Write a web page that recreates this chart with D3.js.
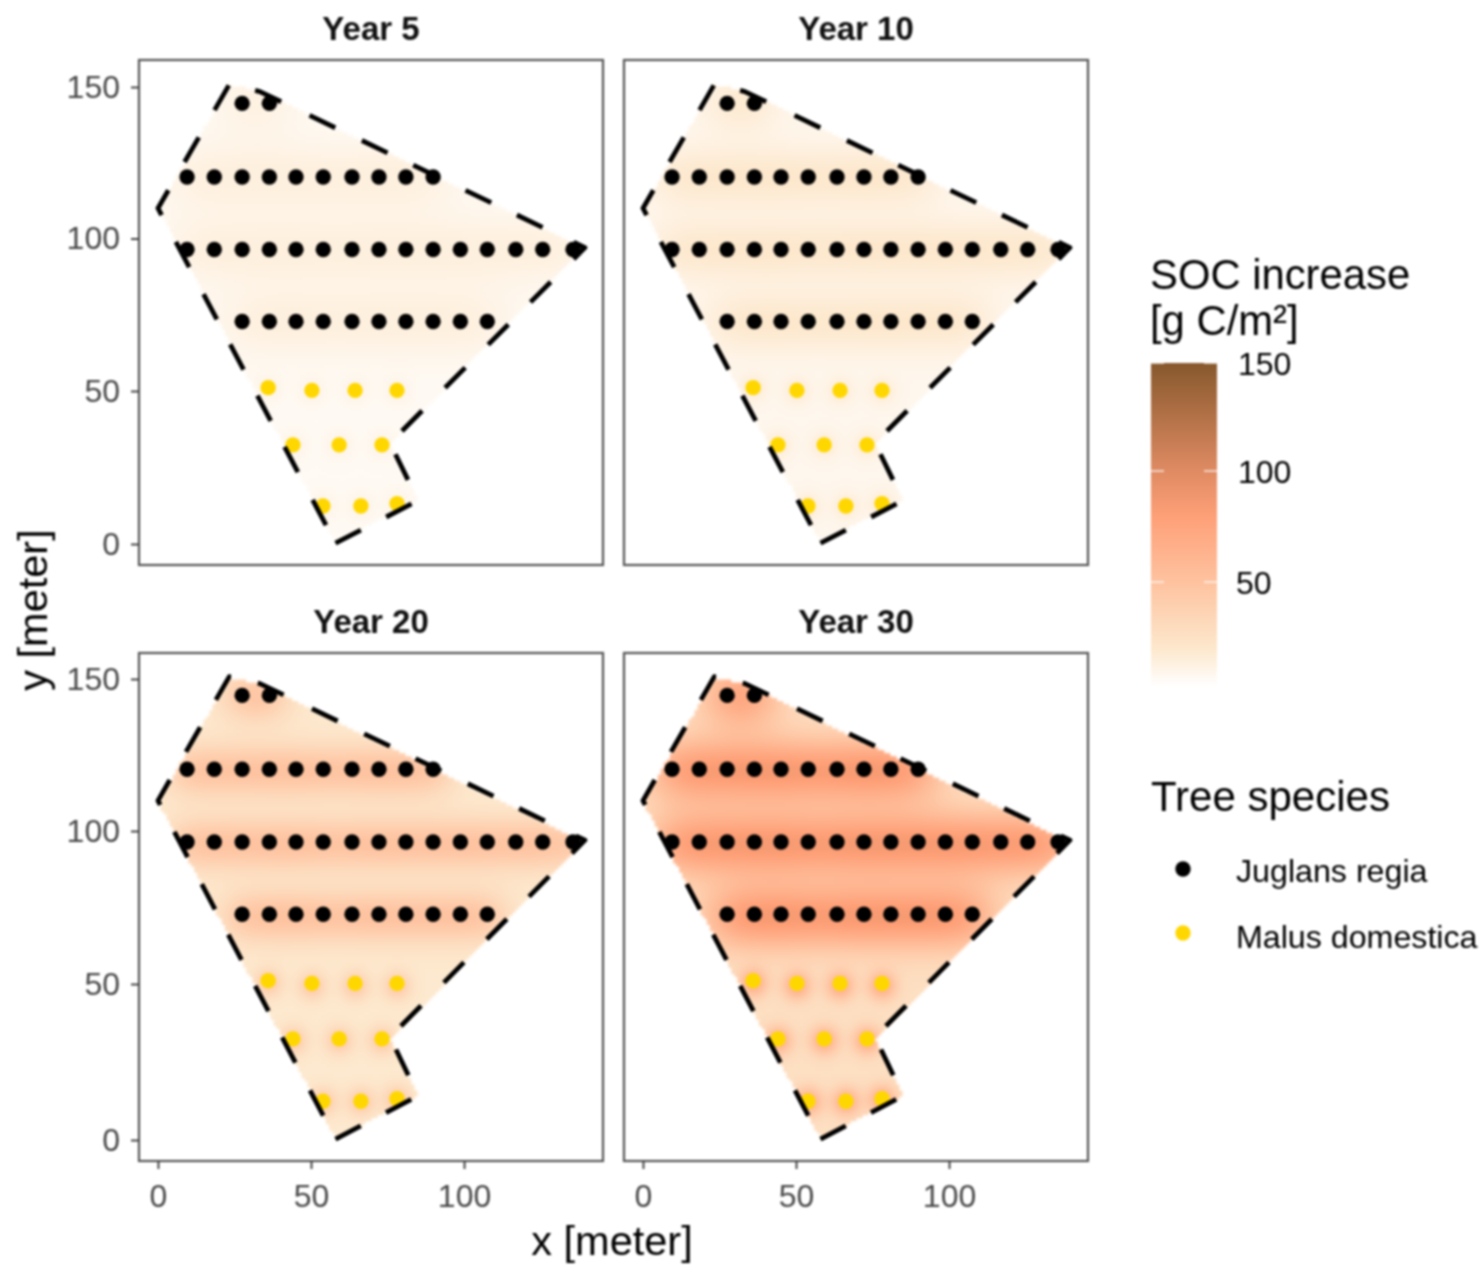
<!DOCTYPE html>
<html><head><meta charset="utf-8">
<script src="https://cdn.jsdelivr.net/npm/d3@7"></script>
<style>html,body{margin:0;padding:0;background:#fff}svg{display:block;filter:blur(0.8px)}text{font-family:"Liberation Sans",Arial,sans-serif}</style>
</head><body><svg id="c" width="1483" height="1267"></svg>
<script>
// ---- data ----
const years = ["Year 5","Year 10","Year 20","Year 30"];
const baseSOC    = [7, 9, 19, 27];       // SOC increase far from trees
const walnutGain = [3.2, 5.5, 18, 27];   // per-tree contribution, Juglans regia
const walnutReach = [8, 7, 6, 7.5];      // reach of a walnut's contribution, metres
const appleGain  = [4, 8, 25, 40];       // per-tree contribution, Malus domestica
const plotX = [58, 85, 75.8, 139.5, 33.3, 23.3, 0, 58];
const plotY = [0.3, 14.2, 33, 97, 148.5, 150.8, 110, 0.3];
const walnutRows = [
  {y:144.6, x:[27.5,36.4]},
  {y:120.3, x:[9.5,18.4,27.5,36.4,45.1,54,63.4,72.2,81,89.9]},
  {y:96.4,  x:[9.5,18.4,27.5,36.4,45.1,54,63.4,72.2,81,89.9,98.8,107.6,116.9,125.7,135.6]},
  {y:72.8,  x:[27.5,36.4,45.1,54,63.4,72.2,81,89.9,98.8,107.6]}
];
const appleX = [36,50.3,64.4,78.1, 44.1,59.2,73.2, 53.9,66.3,78.1];
const appleY = [51.1,50.2,50.2,50.2, 32.4,32.4,32.4, 12.4,12.4,13.2];
const xTicks = [0,50,100], yTicks = [0,50,100,150];
const colorStops = [3,20,50,80,100,150];
const colorVals = ["#ffffff","#fde8cd","#fec3a0","#fea078","#e18c64","#87582d"];
const legendTicks = [50,100,150];
const species = ["Juglans regia","Malus domestica"];
const speciesColors = ["#000000","#ffd700"];
// where each dash of the plot outline begins, along the path
const dashStarts = [0,57,116,174,235,296,356,417,480,537,595,652,710,770,826,886,947,1006,1065,1122,1180,1238,1298];

// ---- layout ----
const svg = d3.select("#c");
const panelW = 464, dashLen = 28.5;
const panels = [
  {l:139,t:60,h:505,yr:[544,391,238.5,87]},{l:624,t:60,h:505,yr:[544,391,238.5,87]},
  {l:139,t:653,h:508,yr:[1140,984,831,679]},{l:624,t:653,h:508,yr:[1140,984,831,679]}
];
const xDom = [-6.2,145.4], yDom = [-6.9,158.7];
const color = d3.scaleLinear().domain(colorStops).range(colorVals).clamp(true);
const walnuts = walnutRows.flatMap(r => r.x.map(x => [x,r.y]));
const apples = appleX.map((x,i) => [x,appleY[i]]);
const poly = plotX.map((x,i)=>[x,plotY[i]]);
const gridX = d3.range(xDom[0],xDom[1],1), gridY = d3.range(yDom[0],yDom[1],1);
const kernel = (x,y,pts,s)=>d3.sum(pts,p=>Math.exp(-((x-p[0])**2+(y-p[1])**2)/(2*s*s)));
const dashArray = dashStarts.flatMap((s,i)=>[dashLen,(i+1<dashStarts.length?dashStarts[i+1]-s:200)-dashLen]).join(" ");

panels.forEach((p,i)=>{
  const x = d3.scaleLinear().domain(xDom).range([p.l,p.l+panelW]);
  const y = d3.scaleLinear().domain([yDom[0],...yTicks,yDom[1]]).range([p.t+p.h,...p.yr,p.t]);
  const g = svg.append("g");
  // raster field, clipped to the plot by cell
  const cv = document.createElement("canvas");
  cv.width = gridX.length; cv.height = gridY.length;
  const ctx = cv.getContext("2d");
  gridY.forEach((gy,r)=>gridX.forEach((gx,c)=>{
    if(!d3.polygonContains(poly,[gx+.5,gy+.5])) return;
    const v = baseSOC[i]+walnutGain[i]*kernel(gx+.5,gy+.5,walnuts,walnutReach[i])+appleGain[i]*kernel(gx+.5,gy+.5,apples,3.2);
    ctx.fillStyle = color(v);
    ctx.fillRect(c,gridY.length-1-r,1,1);
  }));
  g.append("image").attr("href",cv.toDataURL())
    .attr("x",x(xDom[0])).attr("y",y(gridY[0]+gridY.length))
    .attr("width",x(xDom[0]+gridX.length)-x(xDom[0])).attr("height",y(gridY[0])-y(gridY[0]+gridY.length))
    .attr("preserveAspectRatio","none");
  // trees
  g.selectAll("circle.w").data(walnuts).join("circle").attr("class","w")
    .attr("cx",d=>x(d[0])).attr("cy",d=>y(d[1])).attr("r",7.7).attr("fill",speciesColors[0]);
  g.selectAll("circle.a").data(apples).join("circle").attr("class","a")
    .attr("cx",d=>x(d[0])).attr("cy",d=>y(d[1])).attr("r",7.7).attr("fill",speciesColors[1]);
  // plot outline
  g.append("path").attr("d",d3.line().x(d=>x(d[0])).y(d=>y(d[1]))(poly))
    .attr("fill","none").attr("stroke","#000").attr("stroke-width",4.8).attr("stroke-linejoin","round").attr("stroke-dasharray",dashArray);
  // panel border
  g.append("rect").attr("x",p.l).attr("y",p.t).attr("width",panelW).attr("height",p.h)
    .attr("fill","none").attr("stroke","#555").attr("stroke-width",2.2);
  // title
  svg.append("text").attr("x",p.l+panelW/2).attr("y",p.t-20).attr("text-anchor","middle")
    .attr("font-weight","bold").attr("font-size",33).attr("fill","#111").text(years[i]);
  // axes
  const style = a=>{
    a.select(".domain").remove();
    a.selectAll("line").attr("stroke","#444").attr("stroke-width",2);
    a.selectAll("text").attr("font-size",32).attr("fill","#484848").style("font-family",'"Liberation Sans",Arial,sans-serif');
  };
  if(i%2===0){
    svg.append("g").attr("transform",`translate(${p.l},0)`)
      .call(d3.axisLeft(y).tickValues(yTicks).tickSize(8).tickPadding(11)).call(style);
  }
  if(i>=2){
    svg.append("g").attr("transform",`translate(0,${p.t+p.h})`)
      .call(d3.axisBottom(x).tickValues(xTicks).tickSize(8).tickPadding(15)).call(style);
  }
});

// axis titles
svg.append("text").attr("x",612).attr("y",1255).attr("text-anchor","middle").attr("font-size",41.5).attr("fill","#000").text("x [meter]");
svg.append("text").attr("transform","translate(47,610) rotate(-90)").attr("text-anchor","middle").attr("font-size",41.5).attr("fill","#000").text("y [meter]");

// colourbar
const lx=1151, lw=66;
const ly = d3.scaleLinear().domain([150,100,50]).range([363,471,582]);
const defs = svg.append("defs");
const grad = defs.append("linearGradient").attr("id","lg").attr("x1",0).attr("y1",1).attr("x2",0).attr("y2",0);
colorStops.forEach((s,i)=>grad.append("stop").attr("offset",(s-3)/147).attr("stop-color",colorVals[i]));
svg.append("rect").attr("x",lx).attr("y",ly(150)).attr("width",lw).attr("height",ly(3)-ly(150)).attr("fill","url(#lg)");
legendTicks.forEach(t=>{
  [[lx,lx+13],[lx+lw-13,lx+lw]].forEach(s=>svg.append("line").attr("x1",s[0]).attr("x2",s[1]).attr("y1",ly(t)).attr("y2",ly(t)).attr("stroke","#fff").attr("stroke-width",1.2));
  svg.append("text").attr("x",t===50?1236:1238).attr("y",ly(t)+11.5).attr("font-size",32).attr("fill","#000").text(t);
});
svg.append("text").attr("x",1150).attr("y",289).attr("font-size",41.8).attr("fill","#000").text("SOC increase");
svg.append("text").attr("x",1150).attr("y",335).attr("font-size",41.8).attr("fill","#000").text("[g C/m²]");
svg.append("text").attr("x",1151).attr("y",811).attr("font-size",42).attr("fill","#000").text("Tree species");
species.forEach((s,i)=>{
  const cy=[869,933][i];
  svg.append("circle").attr("cx",1183).attr("cy",cy).attr("r",7.7).attr("fill",speciesColors[i]);
  svg.append("text").attr("x",1236).attr("y",cy+13+i*2).attr("font-size",32.2).attr("fill","#000").text(s);
});
</script></body></html>
